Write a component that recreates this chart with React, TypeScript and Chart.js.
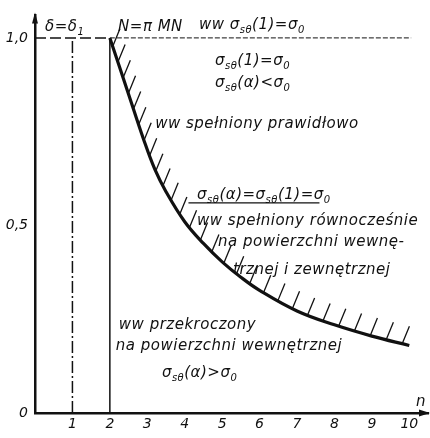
import React, { useEffect, useRef } from 'react';
import { Chart, registerables } from 'chart.js';

Chart.register(...registerables);

// ---- data ----
const curveN = [2, 2.5, 2.9, 3.2, 3.5, 4, 4.5, 5, 5.5, 6, 7, 8, 9, 10];
const curveV = [1.0, 0.85, 0.73, 0.65, 0.59, 0.51, 0.452, 0.403, 0.362, 0.327, 0.272, 0.235, 0.205, 0.18];
const xTicks = [1, 2, 3, 4, 5, 6, 7, 8, 9, 10];
const yTicks = [0, 0.5, 1];
const yTickLabels = ['0', '0,5', '1,0'];
const limitLevel = 1.0;
const topLineBreakN = 2;
const topLineEndN = 10.05;
const deltaLineN = 1;
const nLineN = 2;
const equalLevel = 0.56;
const equalFromN = 4.1;
const equalToN = 7.6;

const annotationTexts = [
  'δ=δ_{1}',
  'N=π MN',
  'ww σ_{sθ}(1)=σ_{0}',
  'σ_{sθ}(1)=σ_{0}',
  'σ_{sθ}(α)<σ_{0}',
  'ww spełniony prawidłowo',
  'σ_{sθ}(α)=σ_{sθ}(1)=σ_{0}',
  'ww spełniony równocześnie',
  'na powierzchni wewnę-',
  'trznej i zewnętrznej',
  'ww przekroczony',
  'na powierzchni wewnętrznej',
  'σ_{sθ}(α)>σ_{0}',
  'n',
];
// anchor (left, baseline) of each text in data units
const annotationN = [0.27, 2.22, 4.38, 4.81, 4.81, 3.21, 4.33, 4.33, 4.89, 5.29, 2.24, 2.16, 3.39, 10.18];
const annotationV = [1.018, 1.018, 1.023, 0.928, 0.87, 0.759, 0.571, 0.502, 0.444, 0.37, 0.225, 0.167, 0.095, 0.0185];

const INK = '#111';
const FONT = '"DejaVu Sans"';

function drawRich(ctx: CanvasRenderingContext2D, x: number, y: number, text: string) {
  const parts: { t: string; sub: boolean }[] = [];
  const re = /_\{([^}]*)\}/g;
  let last = 0;
  let m: RegExpExecArray | null;
  while ((m = re.exec(text)) !== null) {
    if (m.index > last) parts.push({ t: text.slice(last, m.index), sub: false });
    parts.push({ t: m[1], sub: true });
    last = m.index + m[0].length;
  }
  if (last < text.length) parts.push({ t: text.slice(last), sub: false });
  let cx = x;
  for (const p of parts) {
    ctx.font = p.sub ? `italic 10px ${FONT}` : `italic 15px ${FONT}`;
    ctx.fillText(p.t, cx, p.sub ? y + 4 : y);
    cx += ctx.measureText(p.t).width;
  }
}

function bez(p0: number, p1: number, p2: number, p3: number, t: number) {
  const u = 1 - t;
  return u * u * u * p0 + 3 * u * u * t * p1 + 3 * u * t * t * p2 + t * t * t * p3;
}

const overlay = {
  id: 'overlay',
  afterDatasetsDraw(chart: any) {
    const { ctx, scales } = chart;
    const xs = scales.x;
    const ys = scales.y;
    ctx.save();

    // hatching along the curve (dataset 0)
    const meta = chart.getDatasetMeta(0);
    const els = meta.data as any[];
    const poly: { x: number; y: number }[] = [];
    for (let i = 0; i < els.length - 1; i++) {
      const a = els[i];
      const b = els[i + 1];
      const c1x = a.cp2x ?? a.x, c1y = a.cp2y ?? a.y;
      const c2x = b.cp1x ?? b.x, c2y = b.cp1y ?? b.y;
      for (let k = 0; k < 20; k++) {
        const t = k / 20;
        poly.push({ x: bez(a.x, c1x, c2x, b.x, t), y: bez(a.y, c1y, c2y, b.y, t) });
      }
    }
    if (els.length) poly.push({ x: els[els.length - 1].x, y: els[els.length - 1].y });

    ctx.strokeStyle = INK;
    ctx.lineWidth = 1.3;
    ctx.setLineDash([]);
    const spacing = 16.5;
    let next = 9;
    let acc = 0;
    const dx = 0.38, dy = -0.925, len = 19;
    for (let i = 0; i < poly.length - 1; i++) {
      const p = poly[i], q = poly[i + 1];
      const seg = Math.hypot(q.x - p.x, q.y - p.y);
      while (acc + seg >= next) {
        const t = (next - acc) / seg;
        const hx = p.x + (q.x - p.x) * t;
        const hy = p.y + (q.y - p.y) * t;
        ctx.beginPath();
        ctx.moveTo(hx, hy);
        ctx.lineTo(hx + dx * len, hy + dy * len);
        ctx.stroke();
        next += spacing;
      }
      acc += seg;
    }

    // axis arrowheads
    ctx.fillStyle = INK;
    const x0 = xs.left, yb = ys.bottom, xr = xs.right, yt = ys.top;
    ctx.beginPath();
    ctx.moveTo(xr + 2, yb);
    ctx.lineTo(xr - 9, yb - 3.5);
    ctx.lineTo(xr - 9, yb + 3.5);
    ctx.closePath();
    ctx.fill();
    ctx.beginPath();
    ctx.moveTo(x0, yt - 3);
    ctx.lineTo(x0 - 3, yt + 8);
    ctx.lineTo(x0 + 3, yt + 8);
    ctx.closePath();
    ctx.fill();

    // texts
    ctx.fillStyle = INK;
    ctx.textBaseline = 'alphabetic';
    ctx.textAlign = 'left';
    (ctx as any).letterSpacing = '0.5px';
    annotationTexts.forEach((t, i) => {
      drawRich(ctx, xs.getPixelForValue(annotationN[i]), ys.getPixelForValue(annotationV[i]), t);
    });
    ctx.restore();
  },
};

function pts(xa: number[], ya: number[]) {
  return xa.map((x, i) => ({ x, y: ya[i] }));
}

export default function App() {
  const ref = useRef<HTMLCanvasElement | null>(null);
  useEffect(() => {
    if (!ref.current) return;
    const base = { pointRadius: 0, showLine: true, borderColor: INK, fill: false, clip: false as any };
    const chart = new Chart(ref.current, {
      type: 'scatter',
      data: {
        datasets: [
          { ...base, data: pts(curveN, curveV), borderWidth: 3.2, tension: 0.4 } as any,
          { ...base, data: pts([0, topLineBreakN], [limitLevel, limitLevel]), borderWidth: 1.5, borderDash: [11, 4] },
          { ...base, data: pts([topLineBreakN, topLineEndN], [limitLevel, limitLevel]), borderWidth: 1, borderDash: [5, 2] },
          { ...base, data: pts([deltaLineN, deltaLineN], [0, limitLevel]), borderWidth: 1.5, borderDash: [12, 3, 2, 3] },
          { ...base, data: pts([nLineN, nLineN], [0, limitLevel]), borderWidth: 1.5 },
          { ...base, data: pts([equalFromN, equalToN], [equalLevel, equalLevel]), borderWidth: 1.2 },
        ],
      },
      options: {
        responsive: false,
        animation: false,
        events: [],
        layout: { padding: { top: 12, right: 2, left: 0, bottom: 0 } },
        plugins: { legend: { display: false }, tooltip: { enabled: false } },
        elements: { point: { radius: 0 } },
        scales: {
          x: {
            type: 'linear',
            min: 0,
            max: 10.5,
            afterFit: (s: any) => { s.height = 25; },
            afterBuildTicks: (s: any) => { s.ticks = xTicks.map((v) => ({ value: v })); },
            grid: { display: true, drawOnChartArea: false, drawTicks: false },
            border: { display: true, color: INK, width: 2.5 },
            ticks: {
              color: INK,
              padding: 3,
              autoSkip: false,
              maxRotation: 0,
              font: { family: 'DejaVu Sans', style: 'italic', size: 14 },
              callback: (v: any) => String(v),
            },
          },
          y: {
            type: 'linear',
            min: 0,
            max: 1.06,
            afterFit: (s: any) => { s.width = 35; },
            afterBuildTicks: (s: any) => { s.ticks = yTicks.map((v) => ({ value: v })); },
            grid: { display: true, drawOnChartArea: false, drawTicks: false },
            border: { display: true, color: INK, width: 2.5 },
            ticks: {
              color: INK,
              padding: 7,
              autoSkip: false,
              font: { family: 'DejaVu Sans', style: 'italic', size: 14 },
              callback: (v: any) => {
                const i = yTicks.indexOf(Number(v));
                return i >= 0 ? yTickLabels[i] : '';
              },
            },
          },
        },
      },
      plugins: [overlay],
    });
    return () => chart.destroy();
  }, []);
  return (
    <div style={{ position: 'fixed', left: 0, top: 0, width: 430, height: 438, background: '#fff' }}>
      <canvas ref={ref} width={430} height={438} style={{ display: 'block' }} />
    </div>
  );
}
